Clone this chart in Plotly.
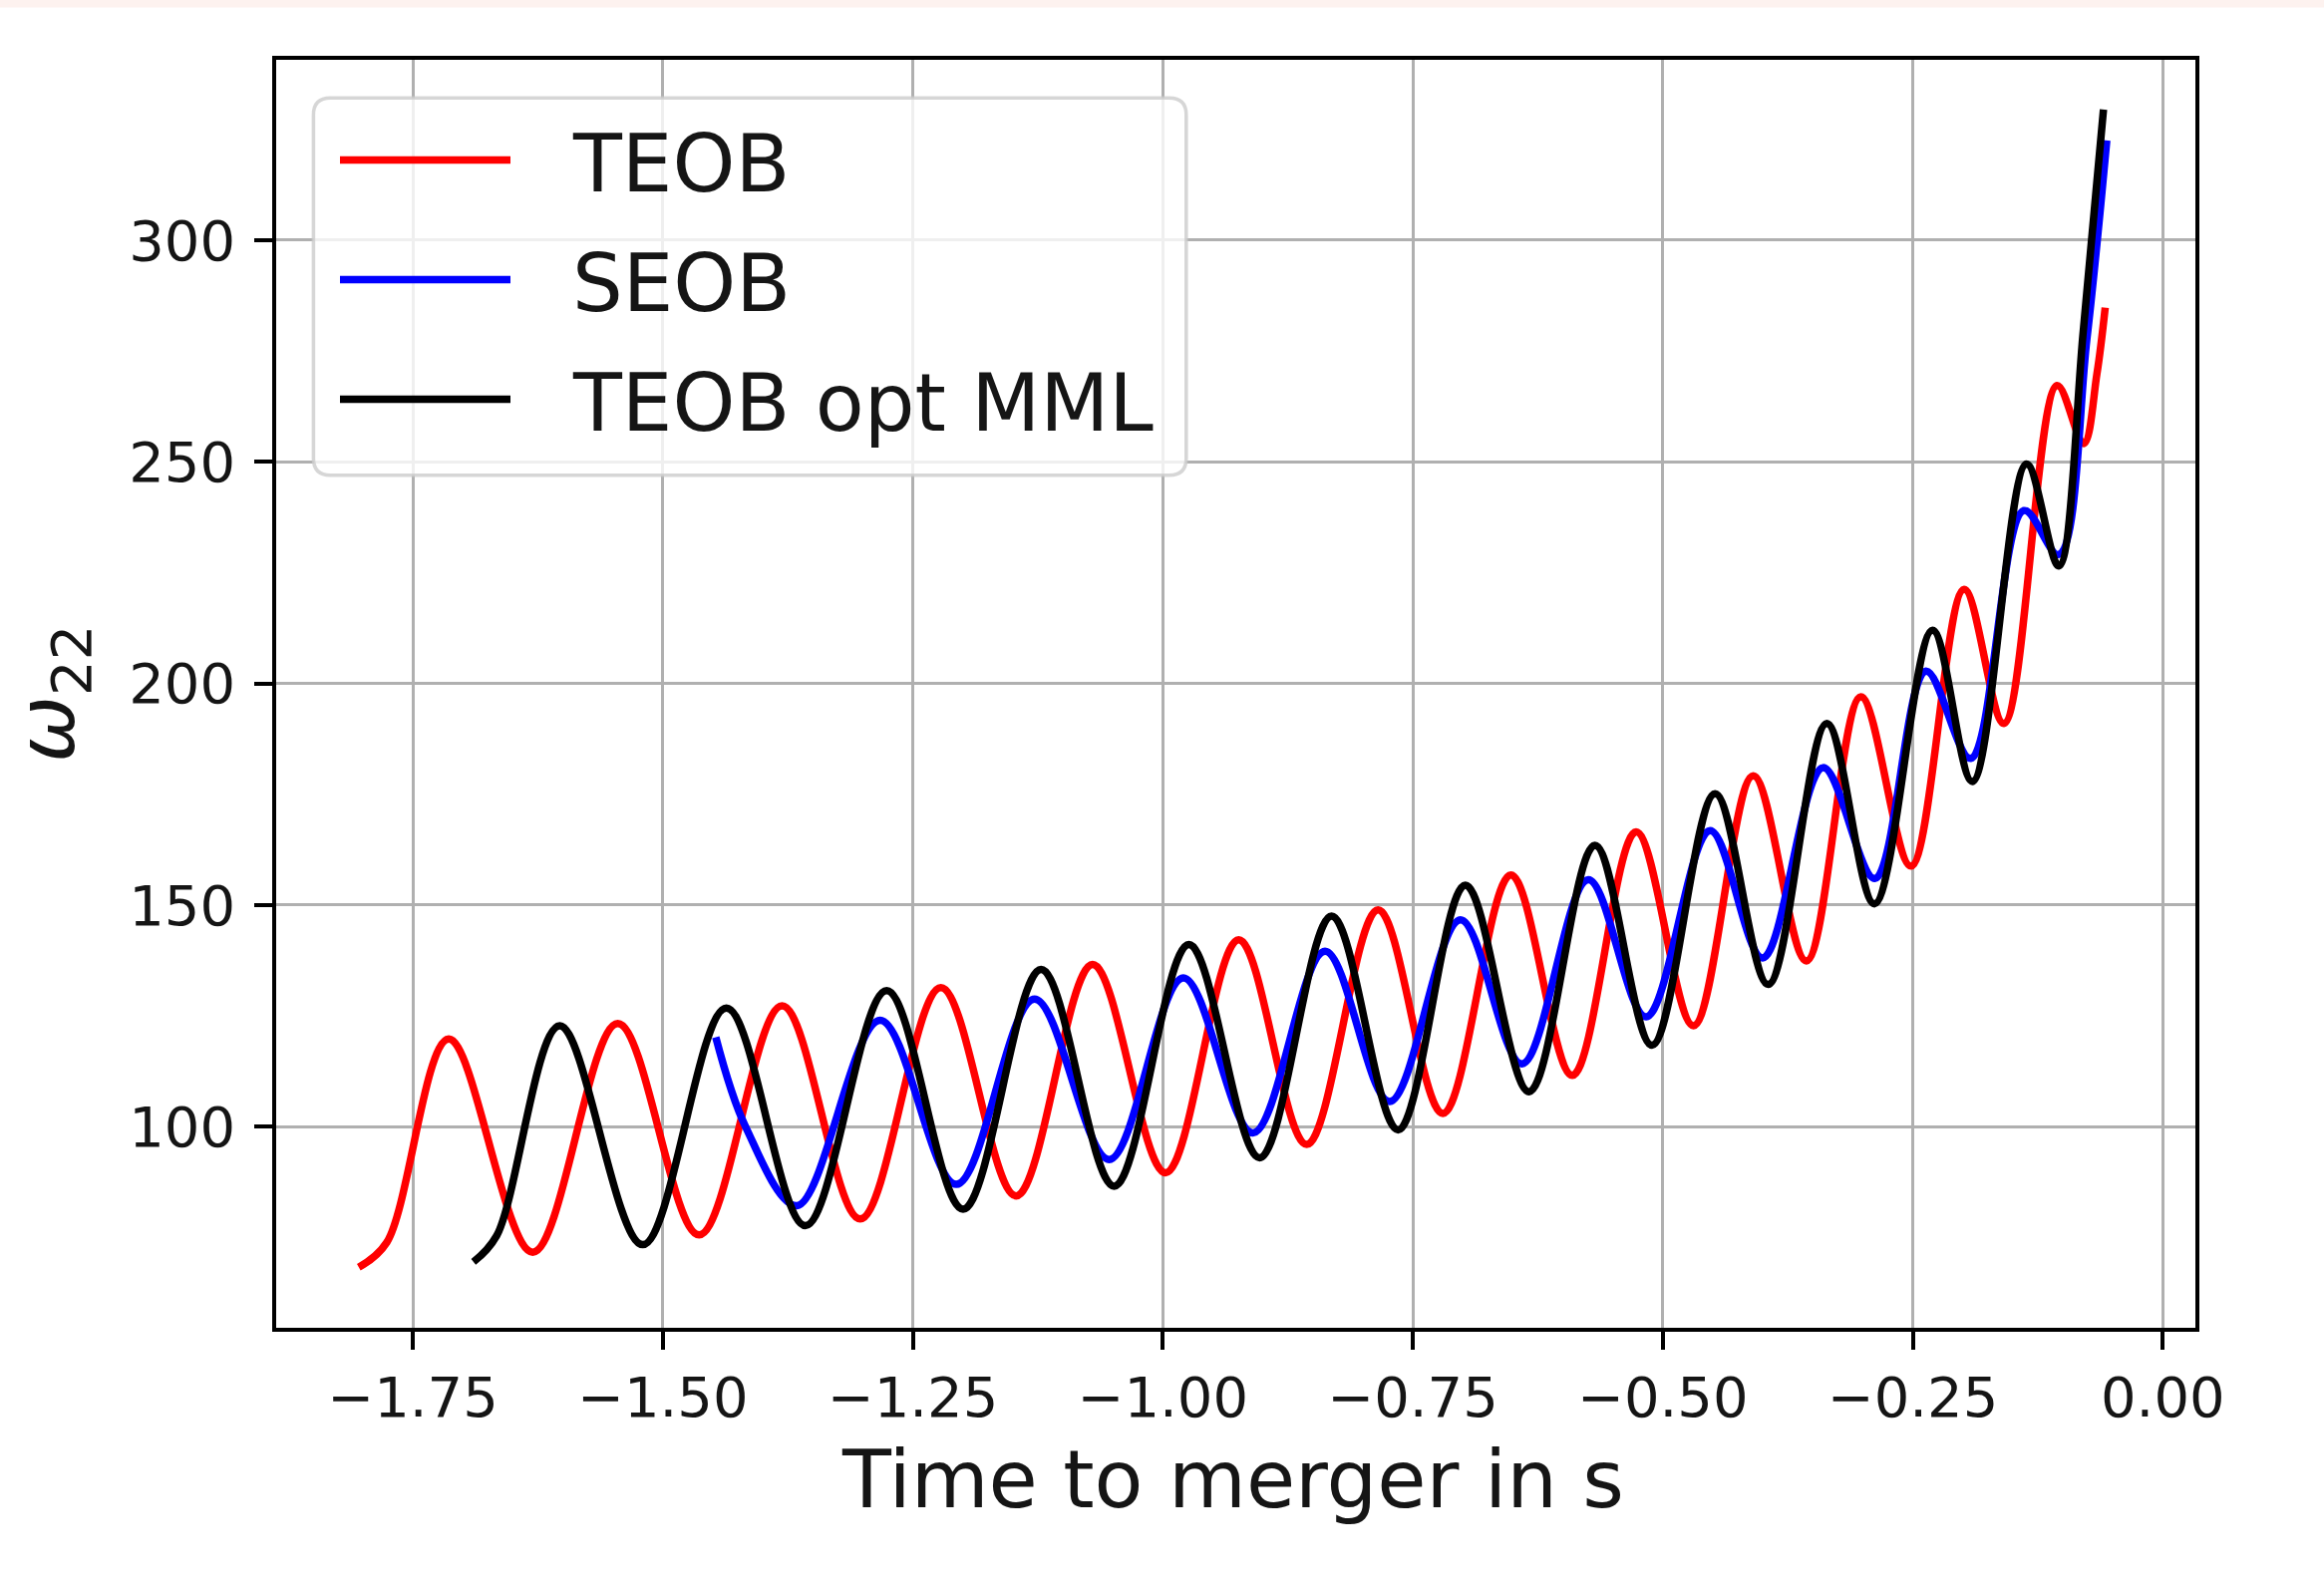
import plotly.graph_objects as go

# Orbital frequency omega_22 versus time to merger for three waveform models.
# Each series lists its turning points (maxima/minima) plus its end points.
t_teob = [-1.804, -1.776, -1.714, -1.630, -1.545, -1.4636, -1.3807, -1.3026, -1.2219, -1.1466,
          -1.0702, -0.9972, -0.9241, -0.8561, -0.7847, -0.7199, -0.6519, -0.5904, -0.5267, -0.4693,
          -0.4096, -0.3564, -0.302, -0.2518, -0.1987, -0.1589, -0.1058, -0.0792, -0.0659, -0.0576]
w_teob = [68.3, 73.9, 119.8, 71.7, 123.3, 75.6, 127.3, 79.2, 131.4, 84.4,
          136.6, 89.6, 142.2, 96.0, 148.9, 103.0, 156.8, 111.6, 166.5, 122.8,
          179.2, 137.4, 197.0, 158.8, 221.2, 191.0, 267.2, 254.1, 269.8, 284.8]

t_seob = [-1.447, -1.4172, -1.3657, -1.2827, -1.2064, -1.1283, -1.0536, -0.9795, -0.9098, -0.8378,
          -0.7731, -0.7024, -0.6409, -0.5745, -0.5167, -0.4527, -0.4002, -0.3398, -0.288, -0.2369,
          -0.192, -0.1389, -0.1041, -0.0759, -0.056]
w_seob = [120.2, 100.0, 82.2, 124.0, 87.0, 128.8, 92.6, 133.6, 98.6, 139.6,
          105.7, 146.7, 114.2, 155.7, 124.8, 166.8, 138.1, 181.0, 156.0, 202.8,
          183.1, 239.0, 229.1, 277.7, 322.5]

t_mml = [-1.6893, -1.6661, -1.603, -1.520, -1.4364, -1.3574, -1.2761, -1.1997, -1.1217, -1.0486,
         -0.9739, -0.9032, -0.8312, -0.7647, -0.6974, -0.6337, -0.5679, -0.5108, -0.4477, -0.3946,
         -0.336, -0.2883, -0.2303, -0.1904, -0.1363, -0.1041, -0.0792, -0.0593]
w_mml = [69.5, 75.4, 122.8, 73.4, 126.8, 77.7, 130.7, 81.4, 135.5, 86.6,
         141.1, 93.0, 147.5, 99.3, 154.5, 107.9, 163.5, 118.4, 175.1, 132.1,
         191.0, 150.3, 212.0, 177.9, 249.5, 226.5, 280.3, 329.5]

series_names = ["TEOB", "SEOB", "TEOB opt MML"]
series_colors = ["#ff0000", "#0000ff", "#000000"]

x_title = "Time to merger in s"
y_title = "<i>ω</i><sub>22</sub>"

# Canvas geometry (pixels)
W, H = 2331, 1585
ML, MR, MT, MB = 277, 129, 60, 253
PW, PH = W - ML - MR, H - MT - MB
FONT = "DejaVu Sans"
TEXT_COLOR = "#151515"


def px_x(X):
    return (X - ML) / PW


def px_y(Y):
    return (H - MB - Y) / PH


fig = go.Figure()
for t, w, name, color in zip([t_teob, t_seob, t_mml], [w_teob, w_seob, w_mml],
                             series_names, series_colors):
    fig.add_trace(go.Scatter(
        x=t, y=w, mode="lines", name=name, showlegend=False,
        line=dict(color=color, width=7.5, shape="spline", smoothing=1.0),
    ))

axis_common = dict(
    showgrid=True, gridcolor="#b0b0b0", gridwidth=2.5,
    showline=True, linecolor="black", linewidth=3.5, mirror=True,
    ticks="outside", ticklen=18, tickwidth=3.5, tickcolor="black",
    tickfont=dict(family=FONT, size=56, color=TEXT_COLOR),
    zeroline=False,
)

fig.update_xaxes(range=[-1.8866, 0.0326], tick0=0, dtick=0.25, tickformat=".2f",
                 **axis_common)
fig.update_yaxes(range=[54.64, 340.7], tick0=0, dtick=50, ticklabelstandoff=8,
                 **axis_common)

# Legend frame with rounded corners
bx0, bx1 = px_x(314.4), px_x(1189.8)
by1, by0 = px_y(98.3), px_y(476.7)
rx, ry = 17 / PW, 17 / PH
path = (f"M {bx0+rx},{by1} L {bx1-rx},{by1} Q {bx1},{by1} {bx1},{by1-ry} "
        f"L {bx1},{by0+ry} Q {bx1},{by0} {bx1-rx},{by0} L {bx0+rx},{by0} "
        f"Q {bx0},{by0} {bx0},{by0+ry} L {bx0},{by1-ry} Q {bx0},{by1} {bx0+rx},{by1} Z")

shapes = [
    dict(type="rect", xref="paper", yref="paper", x0=px_x(0), x1=px_x(W),
         y0=px_y(7.5), y1=px_y(0), fillcolor="#fdf2ef", line=dict(width=0), layer="above"),
    dict(type="path", xref="paper", yref="paper", path=path,
         fillcolor="rgba(255,255,255,0.8)", line=dict(color="rgba(204,204,204,0.8)", width=3.5),
         layer="above"),
]
annotations = []
legend_rows = [160.5, 280.5, 400.5]
for row_y, name, color in zip(legend_rows, series_names, series_colors):
    shapes.append(dict(type="line", xref="paper", yref="paper",
                       x0=px_x(341), x1=px_x(512), y0=px_y(row_y), y1=px_y(row_y),
                       line=dict(color=color, width=7.5), layer="above"))
    annotations.append(dict(xref="paper", yref="paper", x=px_x(572), y=px_y(row_y + 4),
                            xanchor="left", yanchor="middle", showarrow=False, text=name,
                            font=dict(family=FONT, size=80, color=TEXT_COLOR)))

# Axis titles
annotations.append(dict(xref="paper", yref="paper", x=px_x(1236), y=px_y(1484),
                        xanchor="center", yanchor="middle", showarrow=False, text=x_title,
                        font=dict(family=FONT, size=80, color=TEXT_COLOR)))
annotations.append(dict(xref="paper", yref="paper", x=px_x(52), y=px_y(696),
                        xanchor="center", yanchor="middle", showarrow=False, text=y_title,
                        textangle=-90, font=dict(family=FONT, size=80, color=TEXT_COLOR)))

fig.update_layout(
    width=W, height=H,
    margin=dict(l=ML, r=MR, t=MT, b=MB, pad=0),
    paper_bgcolor="white", plot_bgcolor="white",
    font=dict(family=FONT, color=TEXT_COLOR),
    showlegend=False,
    shapes=shapes, annotations=annotations,
)

fig.write_html("out.html")
